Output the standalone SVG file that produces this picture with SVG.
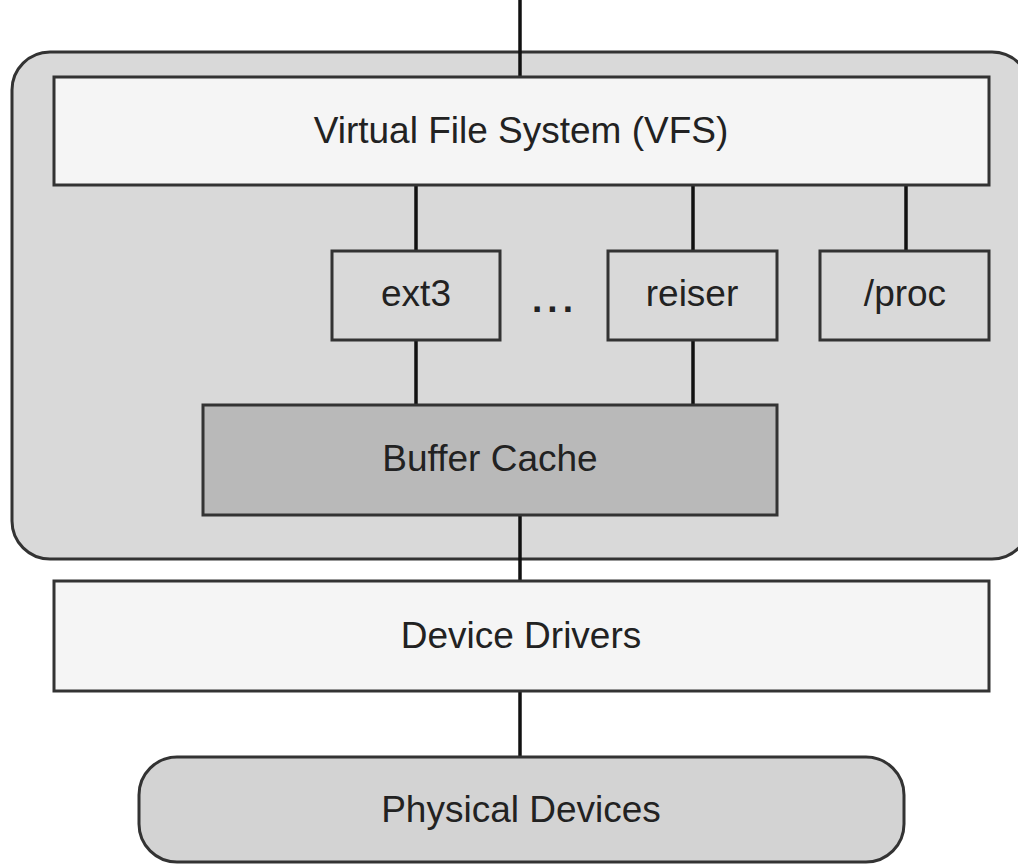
<svg xmlns="http://www.w3.org/2000/svg" width="1018" height="864" viewBox="0 0 1018 864">
<style>
.box{stroke:#333;stroke-width:3}
.lbl{font-family:"Liberation Sans",Arial,sans-serif;font-size:37px;fill:#222;text-anchor:middle}
.con{stroke:#111;stroke-width:3.5;fill:none}
</style>
<rect width="1018" height="864" fill="#fff"/>
<g id="kernel">
<rect class="box" x="12" y="52" width="1018" height="507" rx="38" ry="38" fill="#d9d9d9"/>
</g>
<g id="connectors">
<line class="con" x1="520" y1="0" x2="520" y2="77"/>
<line class="con" x1="416" y1="186" x2="416" y2="251"/>
<line class="con" x1="693" y1="186" x2="693" y2="251"/>
<line class="con" x1="906" y1="186" x2="906" y2="251"/>
<line class="con" x1="416" y1="340" x2="416" y2="405"/>
<line class="con" x1="693" y1="340" x2="693" y2="405"/>
<line class="con" x1="520" y1="515" x2="520" y2="581"/>
<line class="con" x1="520" y1="691" x2="520" y2="757"/>
</g>
<g id="vfs">
<rect class="box" x="54" y="77" width="935" height="108" fill="#f5f5f5"/>
<text class="lbl" x="521" y="143">Virtual File System (VFS)</text>
</g>
<g id="ext3">
<rect class="box" x="332" y="251" width="168" height="89" fill="#d9d9d9"/>
<text class="lbl" x="416" y="306">ext3</text>
</g>
<g id="ellipsis">
<text class="lbl" x="555" y="312" letter-spacing="5" font-weight="bold">...</text>
</g>
<g id="reiser">
<rect class="box" x="608" y="251" width="169" height="89" fill="#d9d9d9"/>
<text class="lbl" x="692" y="306">reiser</text>
</g>
<g id="proc">
<rect class="box" x="820" y="251" width="169" height="89" fill="#d9d9d9"/>
<text class="lbl" x="905" y="306">/proc</text>
</g>
<g id="buffer-cache">
<rect class="box" x="203" y="405" width="574" height="110" fill="#b9b9b9"/>
<text class="lbl" x="490" y="471">Buffer Cache</text>
</g>
<g id="device-drivers">
<rect class="box" x="54" y="581" width="935" height="110" fill="#f5f5f5"/>
<text class="lbl" x="521" y="648">Device Drivers</text>
</g>
<g id="physical-devices">
<rect class="box" x="139" y="757" width="765" height="105" rx="38" ry="38" fill="#d3d3d3"/>
<text class="lbl" x="521" y="822">Physical Devices</text>
</g>
</svg>
